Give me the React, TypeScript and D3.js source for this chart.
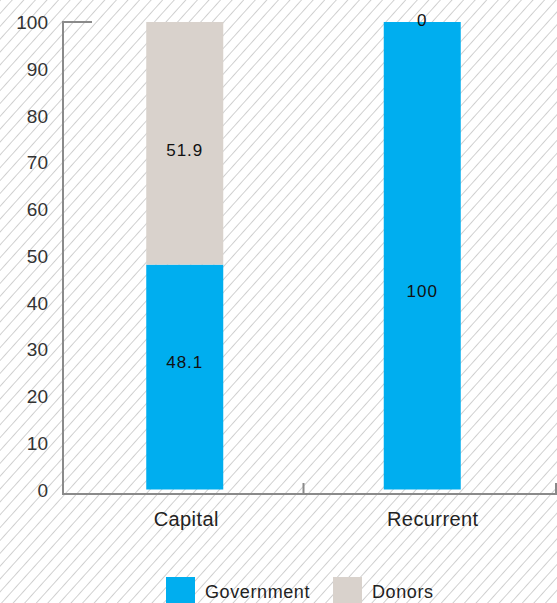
import React from "react";
import * as d3 from "d3";

const categories = ["Capital", "Recurrent"];
const seriesNames = ["Government", "Donors"];
const government = [48.1, 100];
const donors = [51.9, 0];
// label anchor positions (in value units) for each series' label
const governmentLabelAt = [27.2, 42.4];
const donorsLabelAt = [72.6, 100.4];
const yTicks = [0, 10, 20, 30, 40, 50, 60, 70, 80, 90, 100];
const colors = ["#00AEEF", "#D9D2CC"];

const W = 557;
const H = 603;

export default function App() {
  const y = d3.scaleLinear().domain([0, 100]).range([489.5, 22]);
  const xAxis = d3.scaleBand<string>().domain(categories).range([63, 556]);
  const xBar = d3.scaleBand<string>().domain(categories).range([66, 541]);
  const barW = 77;
  const font = "'Liberation Sans', Arial, sans-serif";

  const stacks = categories.map((c, i) => {
    const g = government[i];
    const d = donors[i];
    return [
      { key: seriesNames[0], y0: 0, y1: g, v: g, at: governmentLabelAt[i], color: colors[0] },
      { key: seriesNames[1], y0: g, y1: g + d, v: d, at: donorsLabelAt[i], color: colors[1] },
    ];
  });

  const tickXs = categories.map((c, i) =>
    i < categories.length - 1 ? (xBar(c) as number) + xBar.bandwidth() : 556
  );

  return (
    <svg width={W} height={H} style={{ position: "absolute", left: 0, top: 0, background: "#fff" }}>
      <defs>
        <pattern id="hatch" patternUnits="userSpaceOnUse" width={8.6} height={8.6} patternTransform="rotate(42)">
          <line x1={0} y1={0} x2={0} y2={8.6} stroke="#c6c6c6" strokeWidth={1.6} />
        </pattern>
      </defs>
      <rect x={0} y={0} width={W} height={H} fill="url(#hatch)" />

      {/* bars */}
      {categories.map((c, i) => {
        const cx = (xBar(c) as number) + xBar.bandwidth() / 2;
        return (
          <g key={c}>
            {stacks[i].map((s) =>
              s.v > 0 ? (
                <rect key={s.key} x={cx - barW / 2} y={y(s.y1)} width={barW} height={y(s.y0) - y(s.y1)} fill={s.color} />
              ) : null
            )}
          </g>
        );
      })}

      {/* axes */}
      <g stroke="#8a8a8a" strokeWidth={2} fill="none">
        <line x1={63} y1={21} x2={63} y2={495} />
        <line x1={62} y1={22} x2={92} y2={22} />
        <line x1={62} y1={494} x2={557} y2={494} />
        {tickXs.map((xe, i) => (
          <line key={i} x1={xe} y1={483} x2={xe} y2={494} />
        ))}
      </g>

      {/* y tick labels */}
      {yTicks.map((t) => (
        <text key={t} x={48} y={y(t) + 7} textAnchor="end" fontFamily={font} fontSize={19} fill="#333">
          {t}
        </text>
      ))}

      {/* category labels */}
      {categories.map((c) => (
        <text
          key={c}
          x={(xAxis(c) as number) + xAxis.bandwidth() / 2}
          y={526}
          textAnchor="middle"
          fontFamily={font}
          fontSize={20}
          letterSpacing={0.4}
          fill="#222"
        >
          {c}
        </text>
      ))}

      {/* value labels */}
      {categories.map((c, i) => {
        const cx = (xBar(c) as number) + xBar.bandwidth() / 2;
        return stacks[i].map((s) => (
          <text
            key={c + s.key}
            x={cx}
            y={y(s.at) + 6}
            textAnchor="middle"
            fontFamily={font}
            fontSize={17}
            letterSpacing={1}
            fill="#111"
          >
            {s.v}
          </text>
        ));
      })}

      {/* legend */}
      {seriesNames.map((n, i) => {
        const x0 = i === 0 ? 166 : 333;
        return (
          <g key={n}>
            <rect x={x0} y={577} width={29} height={28} fill={colors[i]} />
            <text x={x0 + 39} y={597.5} fontFamily={font} fontSize={18} letterSpacing={0.6} fill="#222">
              {n}
            </text>
          </g>
        );
      })}
    </svg>
  );
}
